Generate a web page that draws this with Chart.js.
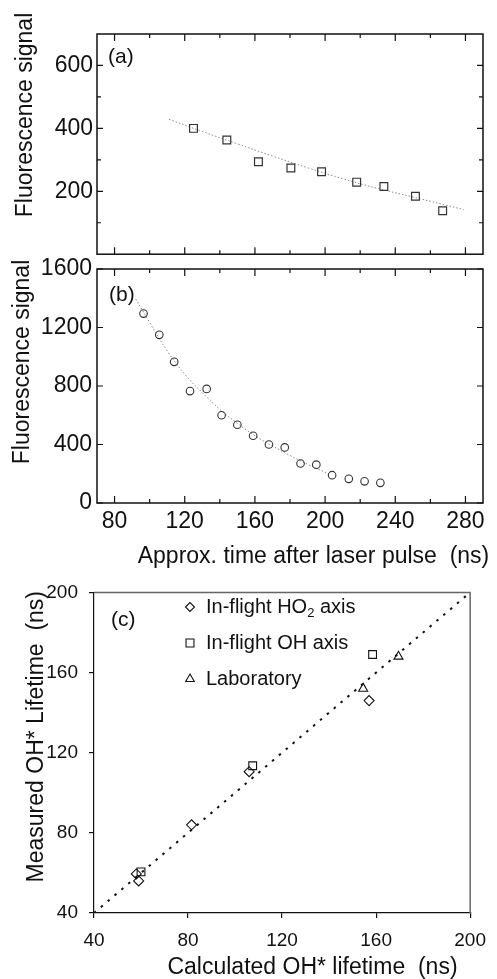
<!DOCTYPE html>
<html>
<head>
<meta charset="utf-8">
<script src="https://cdn.jsdelivr.net/npm/chart.js@4.4.1/dist/chart.umd.min.js"></script>
<style>
  html, body { margin: 0; padding: 0; background: #fff; }
  #wrap { position: relative; width: 497px; height: 979px; overflow: hidden; }
  canvas { position: absolute; left: 0; }
  #ca { top: 0; }
  #cb { top: 250px; }
  #cc { top: 570px; }
</style>
</head>
<body>
<div id="wrap">
  <canvas id="ca" width="497" height="272"></canvas>
  <canvas id="cb" width="497" height="330"></canvas>
  <canvas id="cc" width="497" height="409"></canvas>
</div>
<script>
// ── (a) fluorescence, squares + fit ───────────────────
const A_X = [125, 144, 162, 180.5, 198, 218, 233.5, 251.5, 267];
const A_Y = [400, 363, 294, 274, 262, 229, 215, 184, 138];
const A_FIT_X = [111, 130, 150, 170, 190, 210, 230, 250, 279];
const A_FIT_Y = [429, 390, 351, 312, 275, 240, 209, 182, 142];

// ── (b) fluorescence, circles + fit ───────────────────
const B_X = [96.5, 105.5, 114, 123, 132.5, 141, 150, 159, 168, 177, 186, 195, 204, 213.5, 222.5, 231.5];
const B_Y = [1295, 1150, 965, 765, 780, 600, 535, 460, 400, 380, 270, 262, 190, 165, 148, 138];
const B_FIT_X = [92, 100, 110, 120, 130, 140, 150, 160, 170, 180, 190, 202];
const B_FIT_Y = [1395, 1235, 1040, 880, 755, 640, 545, 460, 390, 325, 265, 200];

// ── (c) measured vs calculated lifetime ───────────────
const HO2_X = [58, 59, 81.5, 106, 157];
const HO2_Y = [59.5, 56, 84, 110.5, 146];
const OH_X = [60, 107.5, 158.5];
const OH_Y = [60.5, 113.5, 169];
const LAB_X = [154.5, 169.5];
const LAB_Y = [152, 168];
const ONE_X = [40, 200];
const ONE_Y = [40, 200];

// ticks and tick labels
const AB_X_TICKS = [80, 100, 120, 140, 160, 180, 200, 220, 240, 260, 280];
const AB_X_LABELS = [80, 120, 160, 200, 240, 280];
const A_Y_TICKS = [100, 200, 300, 400, 500, 600];
const A_Y_LABELS = [200, 400, 600];
const B_Y_TICKS = [0, 200, 400, 600, 800, 1000, 1200, 1400, 1600];
const B_Y_LABELS = [0, 400, 800, 1200, 1600];
const C_TICKS = [40, 80, 120, 160, 200];

const FONT = '"Liberation Sans", Arial, Helvetica, sans-serif';
const INK = '#111';
const pts = (xs, ys) => xs.map((x, i) => ({ x, y: ys[i] }));
const setTicks = (vals) => (s) => { s.ticks = vals.map((value) => ({ value })); };
const only = (labels) => (v) => (labels.includes(v) ? v : '');

// inward ticks on all four sides + box
const inTicks = (xMajor, yMajor) => ({
  id: 'inTicks',
  afterDraw(chart) {
    const { ctx, chartArea: a, scales: { x, y } } = chart;
    ctx.save();
    ctx.strokeStyle = INK;
    ctx.lineWidth = 1.5;
    ctx.strokeRect(a.left, a.top, a.right - a.left, a.bottom - a.top);
    ctx.lineWidth = 1.2;
    ctx.beginPath();
    x.ticks.forEach((t) => {
      const p = x.getPixelForValue(t.value), len = xMajor.includes(t.value) ? 7 : 4;
      ctx.moveTo(p, a.bottom); ctx.lineTo(p, a.bottom - len);
      ctx.moveTo(p, a.top); ctx.lineTo(p, a.top + len);
    });
    y.ticks.forEach((t) => {
      const p = y.getPixelForValue(t.value), len = yMajor.includes(t.value) ? 6 : 4;
      ctx.moveTo(a.left, p); ctx.lineTo(a.left + len, p);
      ctx.moveTo(a.right, p); ctx.lineTo(a.right - len, p);
    });
    ctx.stroke();
    ctx.restore();
  },
});

// free text (panel tags, axis titles)
const texts = (items) => ({
  id: 'texts',
  afterDraw(chart) {
    const ctx = chart.ctx;
    items.forEach((t) => {
      ctx.save();
      ctx.font = t.font;
      ctx.fillStyle = INK;
      ctx.textAlign = t.align || 'center';
      ctx.textBaseline = 'middle';
      ctx.translate(t.x, t.y);
      if (t.rot) ctx.rotate(t.rot);
      ctx.fillText(t.text, 0, 0);
      ctx.restore();
    });
  },
});

const base = (pad) => ({
  responsive: false, animation: false, events: [],
  layout: { padding: pad },
  plugins: { legend: { display: false }, tooltip: { enabled: false } },
});
const tickFont = (size) => ({ family: FONT, size });
const noGrid = { display: false, drawTicks: false };

// ── Panel (a) ─────────────────────────────────────────
new Chart(document.getElementById('ca'), {
  type: 'scatter',
  data: {
    datasets: [
      { data: pts(A_X, A_Y), pointStyle: 'rect', pointRadius: 5.5, borderColor: '#333',
        backgroundColor: 'rgba(0,0,0,0)', borderWidth: 1.2 },
      { data: pts(A_FIT_X, A_FIT_Y), showLine: true, pointRadius: 0, borderColor: '#8a8a8a',
        borderWidth: 1, borderDash: [1.5, 2], tension: 0.4 },
    ],
  },
  options: {
    ...base({ left: 0, top: 34, right: 14, bottom: 4 }),
    scales: {
      x: { type: 'linear', min: 70, max: 290, afterFit: (s) => { s.height = 0; },
        afterBuildTicks: setTicks(AB_X_TICKS),
        ticks: { display: false }, grid: noGrid, border: { display: false } },
      y: { min: 0, max: 700, afterFit: (s) => { s.width = 97; },
        afterBuildTicks: setTicks(A_Y_TICKS),
        ticks: { padding: 4, color: INK, font: tickFont(23), callback: only(A_Y_LABELS) },
        grid: noGrid, border: { display: false } },
    },
  },
  plugins: [
    inTicks(AB_X_LABELS, A_Y_LABELS),
    texts([
      { text: '(a)', x: 108, y: 57, align: 'left', font: `21px ${FONT}` },
      { text: 'Fluorescence signal', x: 26, y: 115, rot: -Math.PI / 2, font: `23px ${FONT}` },
    ]),
  ],
});

// ── Panel (b) ─────────────────────────────────────────
new Chart(document.getElementById('cb'), {
  type: 'scatter',
  data: {
    datasets: [
      { data: pts(B_X, B_Y), pointStyle: 'circle', pointRadius: 3.8, borderColor: '#333',
        backgroundColor: 'rgba(0,0,0,0)', borderWidth: 1.1 },
      { data: pts(B_FIT_X, B_FIT_Y), showLine: true, pointRadius: 0, borderColor: '#8a8a8a',
        borderWidth: 1, borderDash: [1.5, 2], tension: 0.4 },
    ],
  },
  options: {
    ...base({ left: 0, top: 19, right: 14, bottom: 0 }),
    scales: {
      x: { type: 'linear', min: 70, max: 290, afterFit: (s) => { s.height = 77; },
        afterBuildTicks: setTicks(AB_X_TICKS),
        ticks: { padding: 5, maxRotation: 0, autoSkip: false, color: INK, font: tickFont(23),
          callback: only(AB_X_LABELS) },
        grid: noGrid, border: { display: false } },
      y: { min: 0, max: 1600, afterFit: (s) => { s.width = 97; },
        afterBuildTicks: setTicks(B_Y_TICKS),
        ticks: { padding: 5, color: INK, font: tickFont(23), callback: only(B_Y_LABELS) },
        grid: noGrid, border: { display: false } },
    },
  },
  plugins: [
    inTicks(AB_X_LABELS, B_Y_LABELS),
    texts([
      { text: '(b)', x: 109, y: 45, align: 'left', font: `21px ${FONT}` },
      { text: 'Fluorescence signal', x: 23, y: 112, rot: -Math.PI / 2, font: `23px ${FONT}` },
      { text: 'Approx. time after laser pulse  (ns)', x: 313.5, y: 307, font: `23px ${FONT}` },
    ]),
  ],
});

// ── Panel (c) ─────────────────────────────────────────
const frameC = {
  id: 'frameC',
  afterDraw(chart) {
    const { ctx, chartArea: a } = chart;
    ctx.save();
    ctx.strokeStyle = '#666';
    ctx.lineWidth = 1.5;
    ctx.beginPath();
    ctx.moveTo(a.left, a.top); ctx.lineTo(a.right, a.top); ctx.lineTo(a.right, a.bottom);
    ctx.stroke();
    ctx.restore();
  },
};

const legendC = {
  id: 'legendC',
  afterDraw(chart) {
    const ctx = chart.ctx;
    const draw = Chart.helpers && Chart.helpers.drawPoint;
    chart.data.datasets.filter((d) => d.label).forEach((d, i) => {
      const y = 37 + i * 36;
      ctx.save();
      ctx.strokeStyle = INK;
      ctx.fillStyle = 'rgba(0,0,0,0)';
      ctx.lineWidth = 1.1;
      if (draw) draw(ctx, { pointStyle: d.pointStyle, radius: d.legendRadius, rotation: 0, borderWidth: 1.1 }, 190, y);
      ctx.fillStyle = INK;
      ctx.textBaseline = 'middle';
      ctx.textAlign = 'left';
      const parts = d.label.split('₂');
      let x = 206;
      ctx.font = `20px ${FONT}`;
      ctx.fillText(parts[0], x, y);
      x += ctx.measureText(parts[0]).width;
      if (parts.length > 1) {
        ctx.font = `13px ${FONT}`;
        ctx.fillText('2', x, y + 6);
        x += ctx.measureText('2').width;
        ctx.font = `20px ${FONT}`;
        ctx.fillText(parts[1], x, y);
      }
      ctx.restore();
    });
  },
};

const cAxis = () => ({
  type: 'linear', min: 40, max: 200,
  afterBuildTicks: setTicks(C_TICKS),
  ticks: { padding: 11, color: INK, font: tickFont(19), maxRotation: 0 },
  grid: { display: true, drawOnChartArea: false, drawTicks: true, tickLength: 5, color: INK, lineWidth: 1.2 },
  border: { display: true, color: INK, width: 1.2 },
});

new Chart(document.getElementById('cc'), {
  type: 'scatter',
  data: {
    datasets: [
      { label: 'In-flight HO₂ axis', data: pts(HO2_X, HO2_Y), pointStyle: 'rectRot', pointRadius: 5,
        legendRadius: 4.5, borderColor: INK, backgroundColor: 'rgba(0,0,0,0)', borderWidth: 1.1 },
      { label: 'In-flight OH axis', data: pts(OH_X, OH_Y), pointStyle: 'rect', pointRadius: 5.5,
        legendRadius: 5.6, borderColor: INK, backgroundColor: 'rgba(0,0,0,0)', borderWidth: 1.1 },
      { label: 'Laboratory', data: pts(LAB_X, LAB_Y), pointStyle: 'triangle', pointRadius: 5.2,
        legendRadius: 5, borderColor: INK, backgroundColor: 'rgba(0,0,0,0)', borderWidth: 1.1 },
      { data: pts(ONE_X, ONE_Y), showLine: true, pointRadius: 0, borderColor: '#111',
        borderWidth: 2, borderDash: [2.5, 6.5] },
    ],
  },
  options: {
    ...base({ left: 0, top: 14, right: 17, bottom: 0 }),
    scales: {
      x: { ...cAxis(), afterFit: (s) => { s.height = 66; } },
      y: { ...cAxis(), afterFit: (s) => { s.width = 94; } },
    },
  },
  plugins: [
    frameC, legendC,
    texts([
      { text: '(c)', x: 111, y: 50, align: 'left', font: `21px ${FONT}` },
      { text: 'Measured OH* Lifetime  (ns)', x: 36.5, y: 166.7, rot: -Math.PI / 2, font: `23px ${FONT}` },
      { text: 'Calculated OH* lifetime  (ns)', x: 312.5, y: 397.7, font: `23px ${FONT}` },
    ]),
  ],
});
</script>
</body>
</html>
